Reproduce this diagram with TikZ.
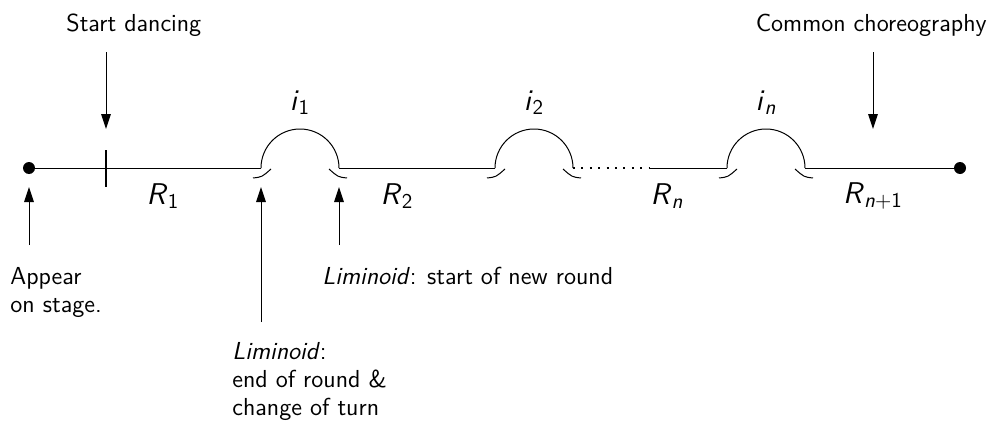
\documentclass[tikz,border=0pt]{standalone}
\usetikzlibrary{arrows.meta,positioning}
\newcommand{\rnd}[1]{\textit{R}\textsubscript{#1}}

\begin{document}
\begin{tikzpicture}[
    x=0.5pt, y=-0.5pt,
    every node/.style={font=\sffamily\fontsize{12.3}{14}\selectfont},
    lbl/.style={font=\sffamily\fontsize{15}{17}\selectfont},
    endpt/.style={circle, fill, inner sep=0pt, minimum size=6pt},
    arr/.style={-{Triangle[length=7.5pt, width=4.8pt]}, line width=0.5pt},
    txt/.style={anchor=north west, inner sep=0pt, align=left}
]
    \useasboundingbox (0,0) rectangle (992,423);

    \node[endpt] (dotL) at (29,168) {};
    \node[endpt] (dotR) at (960,168) {};

    % liminoid arcs
    \foreach \k/\cx/\lab in {1/300/1, 2/534/2, 3/766/{\itshape n}} {
        \coordinate (a\k L) at (\cx-39,168);
        \coordinate (a\k R) at (\cx+39,168);
        \draw[line width=0.5pt] (a\k L) arc[start angle=180, end angle=0, radius=19.5pt];
        \draw[line width=0.5pt] (\cx-47,178) .. controls (\cx-38,177) .. (\cx-29,169);
        \draw[line width=0.5pt] (\cx+47,178) .. controls (\cx+38,177) .. (\cx+29,169);
        \node[lbl] (i\k) at (\cx,103) {\textit{i}\textsubscript{\lab}};
    }

    % rounds
    \coordinate (gap) at (650,168);
    \draw[line width=0.5pt] (dotL) -- (a1L);
    \draw[line width=0.5pt] (a1R) -- (a2L);
    \draw[line width=0.6pt, dash pattern=on 1pt off 3.2pt] (a2R) -- (gap);
    \draw[line width=0.5pt] (gap) -- (a3L);
    \draw[line width=0.5pt] (a3R) -- (dotR);

    \node[lbl] (r1) at (163,196) {\rnd{1}};
    \node[lbl] (r2) at (397,196) {\rnd{2}};
    \node[lbl] (rn) at (667,196) {\rnd{\itshape n}};
    \node[lbl] (rlast) at (873,196) {\rnd{\itshape n\upshape+1}};

    % start tick
    \coordinate (tickT) at (106,150);
    \coordinate (tickB) at (106,187);
    \draw[line width=1.3pt] (tickT) -- (tickB);

    % top labels and arrows
    \node[anchor=base west, inner sep=0pt] (start) at (66,32) {Start dancing};
    \node[anchor=base east, inner sep=0pt] (common) at (987,32) {Common choreography};
    \coordinate (startA) at (106,52);
    \coordinate (startB) at (106,129);
    \coordinate (commA) at (873,52);
    \coordinate (commB) at (873,129);
    \draw[arr] (startA) -- (startB);
    \draw[arr] (commA) -- (commB);

    % bottom labels and arrows
    \node[txt] (appear) at (10,267) {Appear\\on stage.};
    \node[txt] (limA) at (322,267) {\textit{Liminoid}: start of new round};
    \node[txt] (limB) at (232,342) {\textit{Liminoid}:\\end of round \&\\change of turn};
    \coordinate (upA0) at (29,245);
    \coordinate (upA1) at (29,187);
    \coordinate (upB0) at (261,322);
    \coordinate (upB1) at (261,187);
    \coordinate (upC0) at (339,245);
    \coordinate (upC1) at (339,187);
    \draw[arr] (upA0) -- (upA1);
    \draw[arr] (upB0) -- (upB1);
    \draw[arr] (upC0) -- (upC1);
\end{tikzpicture}
\end{document}
